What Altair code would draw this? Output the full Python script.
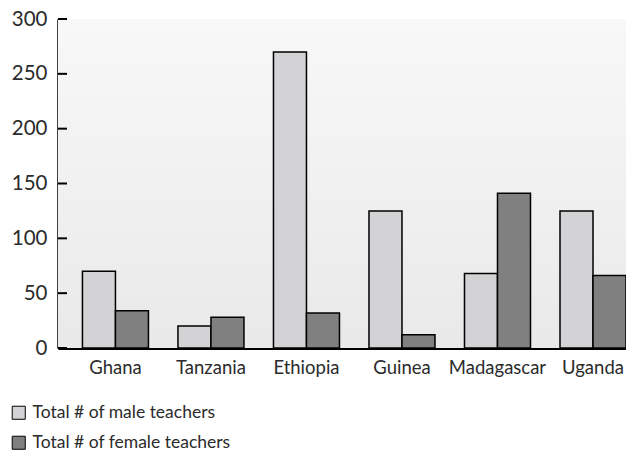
import altair as alt
import pandas as pd

countries = ["Ghana", "Tanzania", "Ethiopia", "Guinea", "Madagascar", "Uganda"]
male = [70, 20, 270, 125, 68, 125]
female = [34, 28, 32, 12, 141, 66]
series = ["Total # of male teachers", "Total # of female teachers"]
y_ticks = [0, 50, 100, 150, 200, 250, 300]

rows = []
for c, m, f in zip(countries, male, female):
    rows.append({"country": c, "series": series[0], "value": m})
    rows.append({"country": c, "series": series[1], "value": f})
df = pd.DataFrame(rows)

W, H = 568, 329
FONT = "Lato"
WEIGHT = 400
TXT = "#2b2b2b"

yscale = alt.Scale(domain=[0, 300], nice=False)

bg = alt.Chart(pd.DataFrame({"a": [0]})).mark_rect(
    color=alt.Gradient(
        gradient="linear",
        stops=[alt.GradientStop(color="#f8f8f8", offset=0),
               alt.GradientStop(color="#e9e9e9", offset=1)],
        x1=0, x2=0, y1=0, y2=1,
    )
).encode(x=alt.value(0), x2=alt.value(W), y=alt.value(0), y2=alt.value(H))

bars = alt.Chart(df).mark_bar(stroke="black", strokeWidth=1.5).encode(
    x=alt.X("country:N", sort=countries, title=None,
            scale=alt.Scale(paddingInner=0.309, paddingOuter=0.128, align=1),
            axis=alt.Axis(ticks=False, labelAngle=0, labelFontSize=18.5, labelFont=FONT,
                          labelFontWeight=WEIGHT, labelColor=TXT, labelPadding=10,
                          domainColor="black", domainWidth=3)),
    xOffset=alt.XOffset("series:N", sort=series),
    y=alt.Y("value:Q", scale=yscale, title=None,
            axis=alt.Axis(values=y_ticks, ticks=False, grid=False, labelFontSize=20.5,
                          labelFont=FONT, labelFontWeight=WEIGHT, labelColor=TXT,
                          labelPadding=11, domainColor="black", domainWidth=2.5)),
    color=alt.Color("series:N", sort=series,
                    scale=alt.Scale(domain=series, range=["#d3d3d5", "#808081"]),
                    legend=alt.Legend(title=None, orient="none", legendX=-48, legendY=385,
                                      symbolType="square", symbolSize=170,
                                      symbolStrokeColor="black", symbolStrokeWidth=1,
                                      labelFont=FONT, labelFontSize=17.5, labelFontWeight=WEIGHT,
                                      labelColor=TXT, labelLimit=0, rowPadding=11,
                                      labelOffset=5)),
)

tick_df = pd.DataFrame({"v": y_ticks})
ticks = alt.Chart(tick_df).mark_rule(color="black", strokeWidth=2).encode(
    y=alt.Y("v:Q", scale=yscale), x=alt.value(0), x2=alt.value(9)
)

chart = alt.layer(bg, bars, ticks).properties(
    width=W, height=H,
    autosize=alt.AutoSizeParams(type="none"),
    padding={"left": 58, "top": 19, "right": 0, "bottom": 104},
).configure_view(stroke=None).configure(background="white")

chart.save("out.html", embed_options={"renderer": "svg", "actions": False})
